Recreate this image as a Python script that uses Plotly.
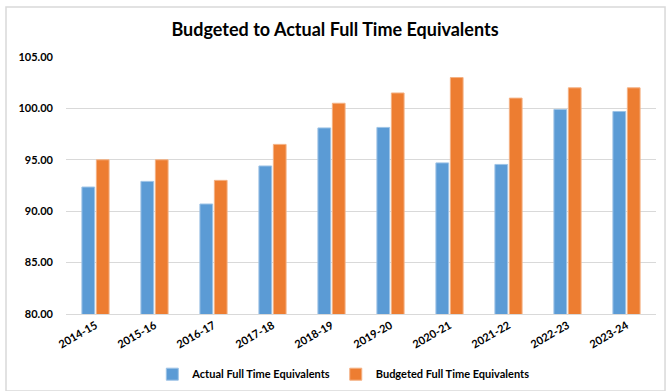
import plotly.graph_objects as go

# Fiscal years and FTE figures
years = ["2014-15", "2015-16", "2016-17", "2017-18", "2018-19",
         "2019-20", "2020-21", "2021-22", "2022-23", "2023-24"]
actual_fte = [92.35, 92.9, 90.7, 94.4, 98.1, 98.15, 94.7, 94.55, 99.9, 99.7]
budgeted_fte = [95.0, 95.0, 93.0, 96.5, 100.5, 101.5, 103.0, 101.0, 102.0, 102.0]
y_ticks = [80, 85, 90, 95, 100, 105]

FONT = "Lato"
BLUE = "#5B9BD5"
ORANGE = "#ED7D31"

fig = go.Figure()
fig.add_trace(go.Bar(
    x=years, y=actual_fte, name="<b>Actual Full Time Equivalents</b>",
    marker=dict(color=BLUE, line=dict(color="#9DC3E6", width=1)),
))
fig.add_trace(go.Bar(
    x=years, y=budgeted_fte, name="<b>Budgeted Full Time Equivalents</b>",
    marker=dict(color=ORANGE, line=dict(color="#F4B183", width=1)),
))

fig.update_layout(
    width=670, height=391,
    margin=dict(l=66, r=14, t=57, b=77, autoexpand=False),
    paper_bgcolor="white", plot_bgcolor="white",
    barmode="group", bargap=0.51, bargroupgap=0.12,
    title=dict(text="<b>Budgeted to Actual Full Time Equivalents</b>",
               x=0.5, xanchor="center", y=0.923, yanchor="middle",
               font=dict(family=FONT, size=18, color="#000000")),
    font=dict(family=FONT, color="#000000"),
    legend=dict(orientation="h", x=0.47, xanchor="center",
                yref="container", y=0.043, yanchor="middle",
                font=dict(family=FONT, size=11, color="#000000"),
                itemwidth=30, traceorder="normal"),
    showlegend=True,
)
fig.update_xaxes(
    tickangle=-30, tickfont=dict(family=FONT, size=11, color="#000000"),
    showline=True, linecolor="#D9D9D9", linewidth=1, ticks="",
    tickprefix="<b>", ticksuffix="</b>", automargin=False,
)
fig.update_yaxes(
    range=[80, 105], tickvals=y_ticks,
    ticktext=[f"<b>{v:.2f}</b>" for v in y_ticks],
    tickfont=dict(family=FONT, size=11, color="#000000"),
    showgrid=True, gridcolor="#D9D9D9", gridwidth=1,
    zeroline=False, ticks="", ticklen=0, ticklabelstandoff=12, automargin=False,
)

# Light chart-area frame
fig.add_shape(type="rect", xref="paper", yref="paper",
              x0=-0.1017, x1=1.0153, y0=-0.30, y1=1.1946,
              line=dict(color="#D9D9D9", width=1.5), layer="below")

fig.write_html("out.html")
